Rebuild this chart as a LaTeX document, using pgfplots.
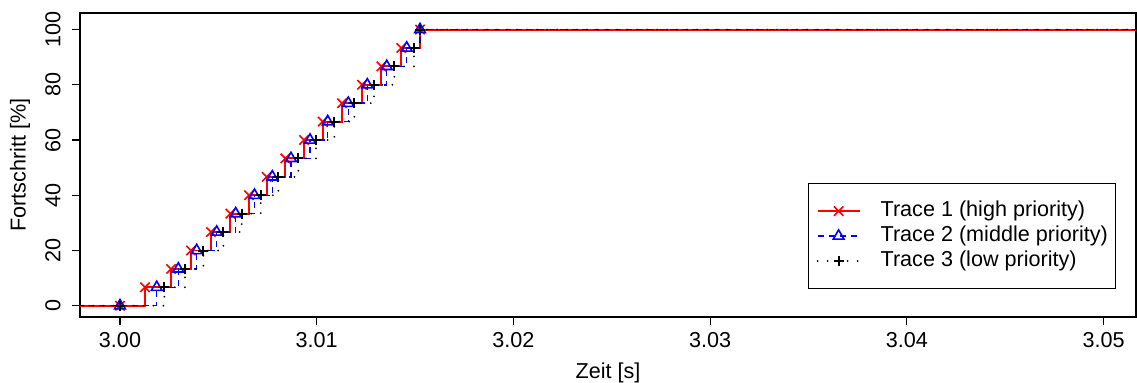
\documentclass[border=0pt]{standalone}
\usepackage{fontspec}
\setmainfont{Liberation Sans}
\usepackage{pgfplots}
\pgfplotsset{compat=1.18}
\begin{document}
\fontsize{10.8bp}{13bp}\selectfont
\begin{tikzpicture}
\begin{axis}[
  at={(0,0)}, anchor=south west,
  scale only axis, width=528bp, height=152bp,
  xmin=2.9979665, xmax=3.05165, ymin=-4.08, ymax=106,
  axis line style={line width=0.6bp},
  tick align=outside, major tick length=4bp,
  tick style={line width=0.6bp, black},
  xtick pos=bottom, ytick pos=left,
  xtick={3,3.01,3.02,3.03,3.04,3.05},
  xticklabels={3.00,3.01,3.02,3.03,3.04,3.05},
  ytick={0,20,40,60,80,100},
  yticklabels={0,20,40,60,80,100},
  yticklabel style={rotate=90, anchor=south, inner sep=5.5bp},
  xlabel={Zeit [s]}, ylabel={Fortschritt [\%]},
  xlabel style={at={(axis description cs:0.5,0)}, anchor=center, yshift=-28bp},
  ylabel style={at={(axis description cs:0,0.5)}, anchor=center, rotate=0, yshift=30bp},
  legend style={at={(axis description cs:0.6894,0.4408)}, anchor=north west,
    draw=black, line width=0.6bp, fill=white, inner xsep=4bp, inner ysep=7.5bp,
    column sep=10bp, row sep=0pt,
    nodes={inner sep=0pt, text height=9bp, text depth=3.5bp}},
  legend cell align=left,
  legend image code/.code={\draw[mark repeat=2,mark phase=2] plot coordinates {(0bp,0bp) (10.5bp,0bp) (21bp,0bp)};},
]
\addplot[red, line width=0.95bp, const plot, mark=x, mark size=3.3bp, mark options={line width=0.8bp}] coordinates {
(2.99,0) (3.000000,0) (3.001271,6.667) (3.002593,13.333) (3.003610,20) (3.004626,26.667)
(3.005608,33.333) (3.006558,40) (3.007458,46.667) (3.008404,53.333) (3.009354,60)
(3.010305,66.667) (3.011286,73.333) (3.012303,80) (3.013284,86.667) (3.014301,93.333)
(3.015252,100) (3.053,100)};
\addlegendentry{Trace 1 (high priority)}
\addplot[blue, line width=0.75bp, dash pattern=on 3bp off 2.5bp, const plot, mark=triangle, mark size=3.1bp, mark options={solid, line width=0.8bp}] coordinates {
(2.99,0) (3.000000,0) (3.001866,6.667) (3.002964,13.333) (3.003899,20) (3.004916,26.667)
(3.005882,33.333) (3.006838,40) (3.007743,46.667) (3.008693,53.333) (3.009659,60)
(3.010559,66.667) (3.011606,73.333) (3.012572,80) (3.013559,86.667) (3.014575,93.333)
(3.015252,100) (3.053,100)};
\addlegendentry{Trace 2 (middle priority)}
\addplot[black, line width=1bp, line cap=round, dash pattern=on 0bp off 5bp, const plot, mark=+, mark size=2.5bp, mark options={solid, line cap=butt, line width=1bp}] coordinates {
(2.99,0) (3.000000,0) (3.002252,6.667) (3.003305,13.333) (3.004235,20) (3.005252,26.667)
(3.006187,33.333) (3.007153,40) (3.008048,46.667) (3.009065,53.333) (3.009964,60)
(3.010895,66.667) (3.011912,73.333) (3.012913,80) (3.013945,86.667) (3.014947,93.333)
(3.015252,100) (3.053,100)};
\addlegendentry{Trace 3 (low priority)}
\end{axis}
\pgfresetboundingbox
\useasboundingbox (-40bp,-33bp) rectangle (528.5bp,158.5bp);
\end{tikzpicture}
\end{document}
